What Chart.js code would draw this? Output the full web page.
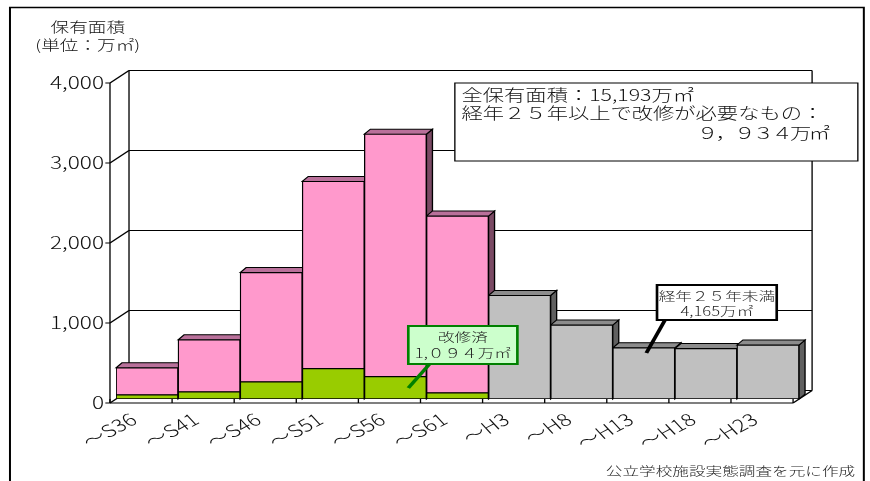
<!DOCTYPE html>
<html lang="ja">
<head>
<meta charset="utf-8">
<title>保有面積</title>
<script src="https://cdn.jsdelivr.net/npm/chart.js@4"></script>
<style>
html, body { margin: 0; padding: 0; background: #fff; }
canvas { display: block; }
</style>
</head>
<body>
<canvas id="chart" width="870" height="481"></canvas>
<script>
// 建築年度の区分
const categories = ['～S36', '～S41', '～S46', '～S51', '～S56', '～S61', '～H3', '～H8', '～H13', '～H18', '～H23'];
// 改修済 (万㎡)
const renovated = [52, 90, 215, 380, 280, 77, null, null, null, null, null];
// 経年25年以上で改修が必要なもの (万㎡)
const needsRenovation = [338, 650, 1365, 2340, 3030, 2211, null, null, null, null, null];
// 経年25年未満 (万㎡)
const under25Years = [null, null, null, null, null, null, 1295, 925, 640, 630, 675];

const FONT = '"Noto Sans CJK JP", "Noto Sans", sans-serif';
const TEXT = '#111';

// 元の図は横に引き伸ばされているので、描画全体を横方向に拡大する
const STRETCH = 1.33;
// 疑似3Dのずらし量 (棒の前面を基準)
const FRONT = { dx: -4.5, dy: 4 };
const WALL = { dx: 9.8, dy: -8.5 };
const DEPTH = { dx: 4.5, dy: -5 };

const PINK = '#FF99CC';
const GREEN = '#99CC00';
const GRAY = '#C0C0C0';
const faceColors = {
    [PINK]: { top: '#B9709A', side: '#7A4A64' },
    [GREEN]: { top: '#7AA300', side: '#5E7A00' },
    [GRAY]: { top: '#8C8C8C', side: '#606060' }
};

function line(ctx, x1, y1, x2, y2) {
    ctx.beginPath();
    ctx.moveTo(x1, y1);
    ctx.lineTo(x2, y2);
    ctx.stroke();
}

function poly(ctx, pts, fill) {
    ctx.beginPath();
    pts.forEach((p, i) => i ? ctx.lineTo(p[0], p[1]) : ctx.moveTo(p[0], p[1]));
    ctx.closePath();
    ctx.fillStyle = fill;
    ctx.fill();
    ctx.stroke();
}

// 壁・床・棒の上面と側面を描くプラグイン
const pseudo3d = {
    id: 'pseudo3d',
    beforeDraw(chart) {
        chart.ctx.setTransform(STRETCH, 0, 0, 1, 0, 0);
    },
    beforeDatasetsDraw(chart) {
        const { ctx, chartArea: a, scales: { x, y } } = chart;
        const fL = a.left + FRONT.dx, fR = a.right + FRONT.dx, fB = a.bottom + FRONT.dy;
        const wL = a.left + WALL.dx, wR = a.right + WALL.dx;
        const wT = a.top + WALL.dy, wB = a.bottom + WALL.dy;
        ctx.save();
        ctx.lineWidth = 1;
        ctx.strokeStyle = '#000';

        // 目盛線 (奥の壁と左の壁)
        y.ticks.forEach(t => {
            const py = y.getPixelForValue(t.value);
            line(ctx, fL, py + FRONT.dy, wL, py + WALL.dy);
            line(ctx, wL, py + WALL.dy, wR, py + WALL.dy);
            line(ctx, fL - 3.5, py + FRONT.dy, fL, py + FRONT.dy);
        });
        line(ctx, wL, wT, wL, wB);
        line(ctx, wR, wT, wR, wB);
        line(ctx, fL, a.top + FRONT.dy, fL, fB);
        line(ctx, fL, fB, fR, fB);
        line(ctx, fR, fB, wR, wB);

        const step = x.getPixelForValue(1) - x.getPixelForValue(0);
        for (let i = 0; i <= categories.length; i++) {
            const bx = x.getPixelForValue(i) - step / 2 + FRONT.dx;
            line(ctx, bx, fB, bx, fB - 4);
        }

        // 棒の側面と上面 (左から順に)
        chart.data.labels.forEach((_, i) => {
            let top = null;
            chart.getSortedVisibleDatasetMetas().forEach(meta => {
                const ds = chart.data.datasets[meta.index];
                if (!ds.data[i]) return;
                const el = meta.data[i];
                const c = faceColors[ds.backgroundColor];
                const r = el.x + el.width / 2;
                poly(ctx, [[r, el.y], [r + DEPTH.dx, el.y + DEPTH.dy], [r + DEPTH.dx, el.base + DEPTH.dy], [r, el.base]], c.side);
                top = { el, c };
            });
            if (top) {
                const { el, c } = top;
                const l = el.x - el.width / 2, r = el.x + el.width / 2;
                poly(ctx, [[l, el.y], [l + DEPTH.dx, el.y + DEPTH.dy], [r + DEPTH.dx, el.y + DEPTH.dy], [r, el.y]], c.top);
            }
        });
        ctx.restore();
    },
    afterDraw(chart) {
        const ctx = chart.ctx;
        ctx.save();
        ctx.textBaseline = 'middle';

        // 軸タイトル
        ctx.fillStyle = TEXT;
        ctx.textAlign = 'center';
        ctx.font = '300 14px ' + FONT;
        ctx.fillText('保有面積', 66, 27);
        ctx.fillText('(単位：万㎡)', 66, 45);

        // 全体の説明
        ctx.fillStyle = '#fff';
        ctx.strokeStyle = '#000';
        ctx.lineWidth = 1;
        ctx.fillRect(342, 83, 303, 78);
        ctx.strokeRect(342, 83, 303, 78);
        ctx.fillStyle = TEXT;
        ctx.font = '300 16px ' + FONT;
        ctx.textAlign = 'left';
        ctx.fillText('全保有面積：15,193万㎡', 347, 95);
        ctx.fillText('経年２５年以上で改修が必要なもの：', 347, 113);
        ctx.textAlign = 'right';
        ctx.letterSpacing = '-2px';
        ctx.fillText('９，９３４万㎡', 622, 133);
        ctx.letterSpacing = '0px';

        // 改修済の吹き出し
        ctx.strokeStyle = '#008000';
        ctx.lineWidth = 3;
        line(ctx, 307, 388, 323, 364);
        ctx.lineWidth = 2;
        ctx.fillStyle = '#CCFFCC';
        ctx.fillRect(307, 326, 82, 38);
        ctx.strokeRect(307, 326, 82, 38);
        ctx.fillStyle = '#222';
        ctx.textAlign = 'center';
        ctx.font = '300 12.5px ' + FONT;
        ctx.fillText('改修済', 348, 337);
        ctx.fillText('1,０９４万㎡', 348, 353);

        // 経年25年未満の吹き出し
        ctx.strokeStyle = '#000';
        ctx.lineWidth = 3;
        line(ctx, 486, 353, 500, 320);
        ctx.lineWidth = 2;
        ctx.fillStyle = '#fff';
        ctx.fillRect(494, 285, 90, 35);
        ctx.strokeRect(494, 285, 90, 35);
        ctx.fillStyle = '#222';
        ctx.fillText('経年２５年未満', 539, 296);
        ctx.fillText('4,165万㎡', 539, 311);

        // 出典
        ctx.textAlign = 'right';
        ctx.fillText('公立学校施設実態調査を元に作成', 643, 471);

        // 外枠
        ctx.strokeStyle = '#000';
        ctx.lineWidth = 1.5;
        ctx.strokeRect(7.5, 7.5, 642, 480);
        ctx.restore();
    }
};

Chart.defaults.font.family = FONT;
Chart.defaults.font.weight = '300';

new Chart(document.getElementById('chart'), {
    type: 'bar',
    data: {
        labels: categories,
        datasets: [
            { label: '改修済', data: renovated, backgroundColor: GREEN },
            { label: '改修が必要なもの', data: needsRenovation, backgroundColor: PINK },
            { label: '経年25年未満', data: under25Years, backgroundColor: GRAY }
        ].map(ds => Object.assign(ds, {
            borderColor: '#000',
            borderWidth: 1,
            borderSkipped: false,
            barPercentage: 1,
            categoryPercentage: 1
        }))
    },
    options: {
        responsive: false,
        animation: false,
        devicePixelRatio: 1,
        locale: 'en-US',
        events: [],
        layout: { padding: { left: 0, top: 79, right: 269.2, bottom: 0 } },
        plugins: {
            legend: { display: false },
            tooltip: { enabled: false }
        },
        scales: {
            x: {
                stacked: true,
                grid: { display: false, drawTicks: false },
                border: { display: false },
                ticks: {
                    autoSkip: false,
                    minRotation: 35,
                    maxRotation: 35,
                    padding: 10,
                    labelOffset: -10,
                    color: TEXT,
                    font: { size: 17 }
                },
                afterFit(scale) { scale.height = 82; }
            },
            y: {
                stacked: true,
                min: 0,
                max: 4000,
                grid: { display: false, drawTicks: false },
                border: { display: false },
                ticks: {
                    stepSize: 1000,
                    padding: 9,
                    labelOffset: 4,
                    color: TEXT,
                    font: { size: 17 }
                },
                afterFit(scale) { scale.width = 87.2; }
            }
        }
    },
    plugins: [pseudo3d]
});
</script>
</body>
</html>
